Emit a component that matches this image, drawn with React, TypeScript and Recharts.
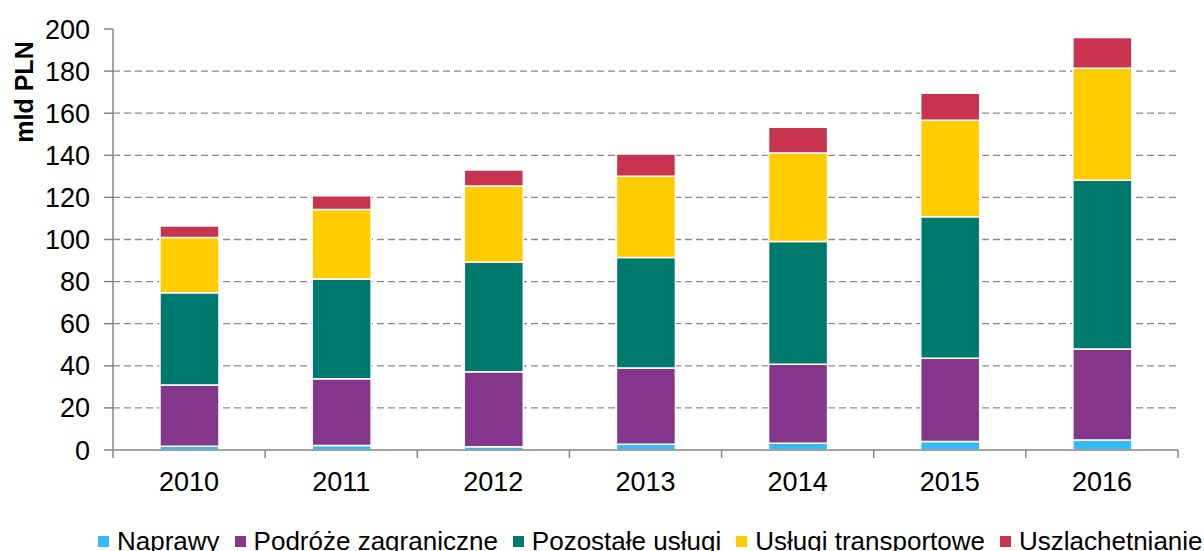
import React from 'react';
import { BarChart, Bar, XAxis, YAxis, CartesianGrid } from 'recharts';

const years = ['2010', '2011', '2012', '2013', '2014', '2015', '2016'];
const naprawy = [1.8, 2.1, 1.6, 2.7, 3.2, 4.0, 4.8];
const podroze = [29.1, 31.8, 35.6, 36.3, 37.5, 39.6, 43.2];
const pozostale = [43.8, 47.3, 52.0, 52.5, 58.3, 67.2, 80.1];
const transport = [26.3, 33.1, 36.2, 38.5, 42.1, 45.8, 53.2];
const uszlachetnianie = [5.4, 6.5, 7.6, 10.6, 12.2, 12.9, 14.7];

const yTicks = [0, 20, 40, 60, 80, 100, 120, 140, 160, 180, 200];
const gridValues = [20, 40, 60, 80, 100, 120, 140, 160, 180];

const series = [
  { key: 'naprawy', name: 'Naprawy', color: '#33BBF7' },
  { key: 'podroze', name: 'Podróże zagraniczne', color: '#84378A' },
  { key: 'pozostale', name: 'Pozostałe usługi', color: '#007A6E' },
  { key: 'transport', name: 'Usługi transportowe', color: '#FFCC00' },
  { key: 'uszlachetnianie', name: 'Uszlachetnianie', color: '#C8334F' },
];

const data = years.map((year, i) => ({
  year,
  naprawy: naprawy[i],
  podroze: podroze[i],
  pozostale: pozostale[i],
  transport: transport[i],
  uszlachetnianie: uszlachetnianie[i],
}));

const FONT = '"Liberation Sans", Arial, sans-serif';
const AXIS = '#868686';

// category ticks sit between the bars, like the Excel original
const YearTick = (props: any) => {
  const { x, y, payload, index } = props;
  const off = payload.offset ?? 76;
  return (
    <g>
      <line x1={x - off} x2={x - off} y1={y} y2={y + 8} stroke={AXIS} strokeWidth={1.5} />
      {index === years.length - 1 && (
        <line x1={x + off} x2={x + off} y1={y} y2={y + 8} stroke={AXIS} strokeWidth={1.5} />
      )}
      <text x={x} y={y + 22} dy="0.71em" textAnchor="middle" fill="#000" fontSize={27} fontFamily={FONT}>
        {payload.value}
      </text>
    </g>
  );
};

const UnitLabel = (props: any) => {
  const { viewBox } = props;
  const x = viewBox.x + 33;
  const y = 92;
  return (
    <text
      x={x}
      y={y}
      transform={`rotate(-90, ${x}, ${y})`}
      textAnchor="middle"
      fill="#000"
      fontSize={25}
      fontWeight="bold"
      fontFamily={FONT}
    >
      mld PLN
    </text>
  );
};

export default function App() {
  return (
    <div style={{ position: 'absolute', left: 0, top: 0, width: 1204, height: 551, background: '#fff', overflow: 'hidden' }}>
      <BarChart width={1204} height={551} data={data} margin={{ top: 29, right: 26, left: 0, bottom: 51 }}>
        <CartesianGrid
          vertical={false}
          horizontalValues={gridValues}
          stroke="#8a8a8a"
          strokeWidth={1.3}
          strokeDasharray="7 4"
        />
        <XAxis
          dataKey="year"
          height={50}
          axisLine={{ stroke: AXIS, strokeWidth: 1.5 }}
          tickLine={false}
          tickSize={0}
          tickMargin={0}
          tick={<YearTick />}
          interval={0}
        />
        <YAxis
          width={113}
          domain={[0, 200]}
          ticks={yTicks}
          interval={0}
          axisLine={{ stroke: AXIS, strokeWidth: 1.5 }}
          tickLine={{ stroke: AXIS, strokeWidth: 1.5 }}
          tickSize={9}
          tickMargin={14}
          tick={{ fill: '#000', fontSize: 27, fontFamily: FONT }}
          label={<UnitLabel />}
        />
        {series.map(s => (
          <Bar
            key={s.key}
            dataKey={s.key}
            name={s.name}
            stackId="a"
            fill={s.color}
            stroke="#fff"
            strokeWidth={1.5}
            barSize={59}
            isAnimationActive={false}
          />
        ))}
      </BarChart>
      <div
        style={{
          position: 'absolute',
          left: 98,
          top: 527,
          display: 'flex',
          alignItems: 'center',
          whiteSpace: 'nowrap',
          fontFamily: FONT,
          fontSize: 26,
          lineHeight: '29px',
          color: '#000',
        }}
      >
        {series.map(s => (
          <div key={s.key} style={{ display: 'flex', alignItems: 'center', marginRight: 15 }}>
            <span style={{ width: 11, height: 11, background: s.color, marginRight: 8, display: 'inline-block' }} />
            <span>{s.name}</span>
          </div>
        ))}
      </div>
    </div>
  );
}
